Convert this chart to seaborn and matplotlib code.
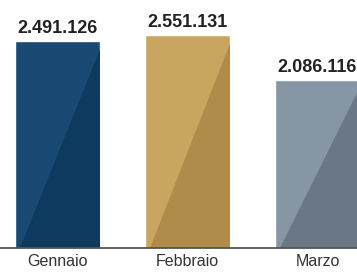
import numpy as np
import pandas as pd
import matplotlib
matplotlib.use("Agg")
import matplotlib.pyplot as plt
from matplotlib.patches import Polygon
import seaborn as sns

# monthly values
months = ["Gennaio", "Febbraio", "Marzo"]
values = [2491126, 2551131, 2086116]
value_labels = ["2.491.126", "2.551.131", "2.086.116"]

# light side / shaded side of each bar
light_colors = ["#194a73", "#c9a55f", "#8796a5"]
dark_colors = ["#0e3a5f", "#b18b4a", "#6a7886"]

df = pd.DataFrame({"mese": months, "valore": values})

sns.set_theme(style="white")
plt.rcParams["font.family"] = ["Liberation Sans", "DejaVu Sans"]

fig = plt.figure(figsize=(3.57, 2.73), dpi=100)
ax = fig.add_axes([0, 25 / 273, 1, 248 / 273])

sns.barplot(data=df, x="mese", y="valore", hue="mese", palette=light_colors,
            legend=False, width=0.654, saturation=1, ax=ax)

ax.set_xlim(-0.442, 2.304)
ax.set_ylim(341500, 2916800)

# darker diagonal half on each bar
for patch, dc in zip(ax.patches, dark_colors):
    x0 = patch.get_x()
    w = patch.get_width()
    y0 = ax.get_ylim()[0]
    y1 = patch.get_y() + patch.get_height()
    h = y1 - y0
    tri = Polygon([(x0 + 0.06 * w, y0), (x0 + w, y1 - 0.04 * h), (x0 + w, y0)],
                  closed=True, facecolor=dc, edgecolor="none", zorder=patch.get_zorder() + 0.1)
    ax.add_patch(tri)

# value labels above bars
for i, (v, lab) in enumerate(zip(values, value_labels)):
    ax.annotate(lab, (i, v), xytext=(0, 3), textcoords="offset points",
                ha="center", va="bottom", fontsize=13, fontweight="bold", color="#222222")

for s in ["top", "right", "left"]:
    ax.spines[s].set_visible(False)
ax.spines["bottom"].set_color("#555555")
ax.spines["bottom"].set_linewidth(1.3)
ax.set_yticks([])
ax.set_xlabel("")
ax.set_ylabel("")
ax.tick_params(axis="x", length=0, pad=4, labelsize=11.5, labelcolor="#333333")
fig.patch.set_facecolor("white")

fig.savefig("out.png", dpi=100, facecolor="white")
